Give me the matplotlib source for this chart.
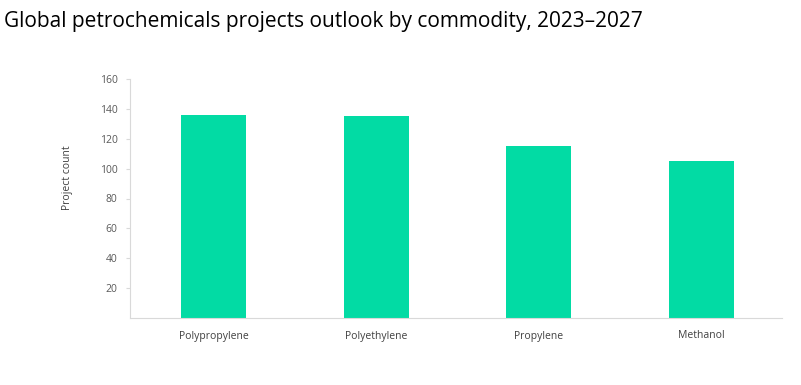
import matplotlib
matplotlib.use("Agg")
import matplotlib.pyplot as plt

categories = ["Polypropylene", "Polyethylene", "Propylene", "Methanol"]
project_counts = [136, 135, 115, 105]
yticks = [20, 40, 60, 80, 100, 120, 140, 160]

title = "Global petrochemicals projects outlook by commodity, 2023\u20132027"
ylabel = "Project count"

W, H = 801, 385
fig = plt.figure(figsize=(W / 100, H / 100), dpi=100)
font = "Open Sans"

ax = fig.add_axes([130 / W, 1 - 318 / H, 652 / W, (318 - 79) / H])
x = range(len(categories))
ax.bar(x, project_counts, width=0.4, color="#02DBA4")
ax.set_xlim(-0.514, len(categories) - 0.502)
ax.set_ylim(0, 160)
ax.set_yticks(yticks)
ax.set_yticklabels([str(t) for t in yticks], fontsize=7.5, color="#595959", family=font)
ax.set_xticks(list(x))
ax.set_xticklabels(categories, fontsize=7.5, color="#404040", family=font)
ax.tick_params(axis="x", length=0, pad=9)
ax.tick_params(axis="y", length=3, color="#D9D9D9", pad=6)
for s in ["top", "right"]:
    ax.spines[s].set_visible(False)
for s in ["left", "bottom"]:
    ax.spines[s].set_color("#D9D9D9")
    ax.spines[s].set_linewidth(0.8)
ax.set_ylabel(ylabel, fontsize=7.5, color="#404040", family=font)
ax.yaxis.set_label_coords(-0.087, 0.585)

t = fig.text(4 / W, 1 - 27 / H, title, fontsize=14, family=font, color="black",
             ha="left", va="baseline")
fig.canvas.draw()
bb = t.get_window_extent()
t.set_fontsize(14 * 643 / bb.width)

fig.savefig("out.png", dpi=100)
